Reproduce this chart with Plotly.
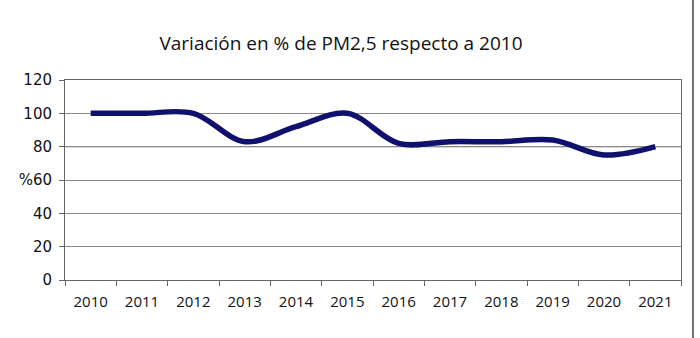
import plotly.graph_objects as go

years = ["2010", "2011", "2012", "2013", "2014", "2015", "2016", "2017", "2018", "2019", "2020", "2021"]
values = [100, 100, 100, 83, 92, 100, 82, 83, 83, 84, 75, 80]
y_tickvals = [0, 20, 40, 60, 80, 100, 120]
y_ticktext = ["0", "20", "40", "%60", "80", "100", "120"]
title_text = "Variación en % de PM2,5 respecto a 2010"

W, H = 700, 338
L, R, T, B = 65, 19, 80, 58
pw = W - L - R
ph = H - T - B

fig = go.Figure()
fig.add_trace(go.Scatter(
    x=years, y=values, mode="lines",
    line=dict(color="#10106e", width=5.5, shape="spline", smoothing=1.0),
    hoverinfo="skip", showlegend=False,
))

fig.update_layout(
    width=W, height=H,
    margin=dict(l=L, r=R, t=T, b=B, pad=0),
    paper_bgcolor="white", plot_bgcolor="white",
    title=dict(text=title_text, x=(341 - L) / pw, xref="paper", xanchor="center",
               y=1 - 43 / H, yref="container", yanchor="middle",
               font=dict(family="Open Sans", size=19, color="#111111")),
    xaxis=dict(
        type="category", tickson="boundaries", ticks="outside", ticklen=5,
        tickcolor="#666666", showgrid=False, showline=True, linecolor="#666666",
        linewidth=1, mirror=True, tickfont=dict(family="Open Sans", size=15, color="#111111"),
        ticklabelstandoff=8,
        range=[-0.5, 11.5], fixedrange=True,
    ),
    yaxis=dict(
        range=[0, 120], tickvals=y_tickvals, ticktext=y_ticktext,
        ticks="outside", ticklen=5, tickcolor="#666666",
        showgrid=True, gridcolor="#8a8a8a", gridwidth=1,
        showline=True, linecolor="#666666", linewidth=1, mirror=True,
        zeroline=False, tickfont=dict(family="DejaVu Sans", size=15, color="#111111"),
        ticklabelstandoff=4,
        fixedrange=True,
    ),
    shapes=[
        dict(type="line", xref="paper", yref="y", x0=0, x1=1, y0=80, y1=80,
             line=dict(color="#111111", width=1), layer="below"),
        dict(type="line", xref="paper", yref="paper",
             x0=(693 - L) / pw, x1=(693 - L) / pw, y0=-B / ph, y1=1 + T / ph,
             line=dict(color="#444444", width=1.5)),
    ],
)

fig.write_html("out.html")
